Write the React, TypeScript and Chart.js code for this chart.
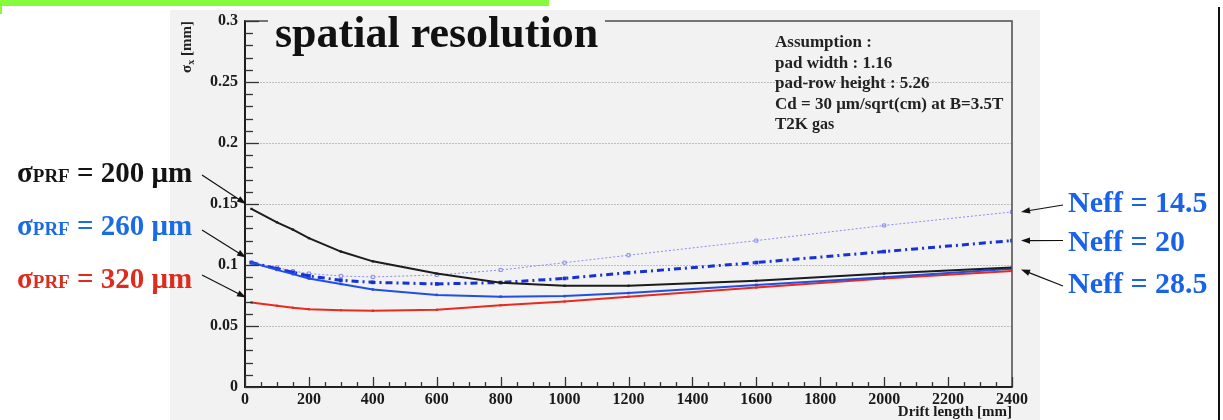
import React, { useEffect, useRef } from "react";
import { Chart, registerables } from "chart.js";

Chart.register(...registerables);

// ---- data ----
const driftLength = [20, 100, 150, 200, 300, 400, 600, 800, 1000, 1200, 1600, 2000, 2400];
const prf200Neff285 = [0.146, 0.135, 0.129, 0.122, 0.111, 0.103, 0.093, 0.0855, 0.083, 0.083, 0.087, 0.093, 0.098];
const prf260Neff285 = [0.102, 0.096, 0.0925, 0.089, 0.0845, 0.080, 0.0755, 0.074, 0.0745, 0.077, 0.0837, 0.090, 0.097];
const prf320Neff285 = [0.0693, 0.0666, 0.065, 0.0638, 0.063, 0.0625, 0.0633, 0.067, 0.070, 0.0739, 0.0815, 0.089, 0.095];
const prf260Neff20 = [0.102, 0.097, 0.094, 0.091, 0.0875, 0.0858, 0.0845, 0.0856, 0.089, 0.0937, 0.102, 0.111, 0.120];
const prf260Neff145 = [0.102, 0.098, 0.095, 0.093, 0.091, 0.0902, 0.0918, 0.0959, 0.1019, 0.108, 0.120, 0.1324, 0.1435];

const xMin = 0;
const xMax = 2400;
const xStep = 200;
const xMinorStep = 50;
const yMin = 0;
const yMax = 0.3;
const yStep = 0.05;
const yMinorStep = 0.01;

const titleText = "spatial resolution";
const xTitle = "Drift length [mm]";
const assumptionLines = [
  "Assumption :",
  "pad width : 1.16",
  "pad-row height : 5.26",
  "Cd = 30 \u03bcm/sqrt(cm) at B=3.5T",
];
const assumptionLast = ["T2K", " gas"];
const prfValues = ["200", "260", "320"];
const prfColors = ["#141414", "#1a6be6", "#de2c1c"];
const neffValues = ["14.5", "20", "28.5"];

const SERIF = "'Liberation Serif', 'Times New Roman', serif";

function drawArrow(ctx: CanvasRenderingContext2D, x1: number, y1: number, x2: number, y2: number) {
  const ang = Math.atan2(y2 - y1, x2 - x1);
  const hl = 9;
  const hw = 3.2;
  ctx.beginPath();
  ctx.moveTo(x1, y1);
  ctx.lineTo(x2 - Math.cos(ang) * hl * 0.8, y2 - Math.sin(ang) * hl * 0.8);
  ctx.stroke();
  ctx.beginPath();
  ctx.moveTo(x2, y2);
  ctx.lineTo(x2 - Math.cos(ang) * hl + Math.sin(ang) * hw, y2 - Math.sin(ang) * hl - Math.cos(ang) * hw);
  ctx.lineTo(x2 - Math.cos(ang) * hl - Math.sin(ang) * hw, y2 - Math.sin(ang) * hl + Math.cos(ang) * hw);
  ctx.closePath();
  ctx.fill();
}

const rootStylePlugin = {
  id: "rootStyle",
  afterDraw(chart: any) {
    const { ctx, chartArea, scales } = chart;
    const { left, right, top, bottom } = chartArea;
    const x = scales.x;
    const y = scales.y;
    ctx.save();
    // frame
    ctx.strokeStyle = "#555";
    ctx.lineWidth = 1.6;
    ctx.strokeRect(left, top, right - left, bottom - top);
    ctx.strokeStyle = "#111";
    ctx.lineWidth = 1.6;
    ctx.beginPath();
    ctx.moveTo(left, top);
    ctx.lineTo(left, bottom);
    ctx.lineTo(right, bottom);
    ctx.stroke();
    // y ticks (inside)
    ctx.strokeStyle = "#333";
    ctx.lineWidth = 1.3;
    const nY = Math.round((yMax - yMin) / yMinorStep);
    const perMajorY = Math.round(yStep / yMinorStep);
    for (let i = 0; i <= nY; i++) {
      const v = yMin + i * yMinorStep;
      const py = Math.round(y.getPixelForValue(v)) + 0.5;
      const len = i % perMajorY === 0 ? 14 : 8;
      ctx.beginPath();
      ctx.moveTo(left, py);
      ctx.lineTo(left + len, py);
      ctx.stroke();
    }
    // x ticks (inside)
    const nX = Math.round((xMax - xMin) / xMinorStep);
    const perMajorX = Math.round(xStep / xMinorStep);
    for (let i = 0; i <= nX; i++) {
      const v = xMin + i * xMinorStep;
      const px = Math.round(x.getPixelForValue(v)) + 0.5;
      const len = i % perMajorX === 0 ? 10 : 5;
      ctx.beginPath();
      ctx.moveTo(px, bottom);
      ctx.lineTo(px, bottom - len);
      ctx.stroke();
    }
    // y title  sigma_x [mm]
    ctx.fillStyle = "#222";
    const f1 = `bold 15px ${SERIF}`;
    const f2 = `bold 10px ${SERIF}`;
    ctx.font = f1;
    const w1 = ctx.measureText("\u03c3").width;
    const w3 = ctx.measureText(" [mm]").width;
    ctx.font = f2;
    const w2 = ctx.measureText("x").width;
    const total = w1 + w2 + w3;
    ctx.save();
    ctx.translate(191, top);
    ctx.rotate(-Math.PI / 2);
    ctx.textBaseline = "alphabetic";
    ctx.textAlign = "left";
    ctx.font = f1;
    ctx.fillText("\u03c3", -total, 0);
    ctx.font = f2;
    ctx.fillText("x", -total + w1, 3);
    ctx.font = f1;
    ctx.fillText(" [mm]", -total + w1 + w2, 0);
    ctx.restore();

    // arrows
    ctx.fillStyle = "#111";
    ctx.strokeStyle = "#111";
    ctx.lineWidth = 1.2;
    const x0 = x.getPixelForValue(xMin);
    const leftSeries = [prf200Neff285, prf260Neff285, prf320Neff285];
    const leftTailY = [175, 230, 275];
    leftSeries.forEach((s, i) => {
      drawArrow(ctx, 202, leftTailY[i], x0 + 1, y.getPixelForValue(s[0]) - 5);
    });
    const xEnd = x.getPixelForValue(driftLength[driftLength.length - 1]) + 9;
    const rightSeries = [prf260Neff145, prf260Neff20, prf200Neff285];
    const rightTailY = [205, 240.5, 286];
    rightSeries.forEach((s, i) => {
      drawArrow(ctx, 1063, rightTailY[i], xEnd, y.getPixelForValue(s[s.length - 1]) + (i === 2 ? 2 : 0));
    });
    ctx.restore();
  },
};

const toXY = (arr: number[]) => driftLength.map((xv, i) => ({ x: xv, y: arr[i] }));

export default function App() {
  const canvasRef = useRef<HTMLCanvasElement | null>(null);

  useEffect(() => {
    const canvas = canvasRef.current;
    if (!canvas) return;
    const chart = new Chart(canvas, {
      type: "line",
      data: {
        datasets: [
          {
            label: "\u03c3PRF=200 \u03bcm, Neff=28.5",
            data: toXY(prf200Neff285),
            borderColor: "#1c1c1c",
            backgroundColor: "#1c1c1c",
            borderWidth: 2,
            pointStyle: "rect",
            pointRadius: 1.6,
            pointBorderWidth: 0,
            tension: 0,
          },
          {
            label: "\u03c3PRF=260 \u03bcm, Neff=28.5",
            data: toXY(prf260Neff285),
            borderColor: "#1f4fe4",
            backgroundColor: "#1f4fe4",
            borderWidth: 2,
            pointStyle: "rect",
            pointRadius: 1.8,
            pointBorderWidth: 0,
            tension: 0,
          },
          {
            label: "\u03c3PRF=320 \u03bcm, Neff=28.5",
            data: toXY(prf320Neff285),
            borderColor: "#ea2a1e",
            backgroundColor: "#ea2a1e",
            borderWidth: 2,
            pointStyle: "rect",
            pointRadius: 1.6,
            pointBorderWidth: 0,
            tension: 0,
          },
          {
            label: "\u03c3PRF=260 \u03bcm, Neff=20",
            data: toXY(prf260Neff20),
            borderColor: "#1632d6",
            backgroundColor: "#1632d6",
            borderWidth: 3,
            borderDash: [7, 4, 2, 4],
            pointStyle: "rect",
            pointRadius: 2.6,
            pointBorderWidth: 0,
            tension: 0,
          },
          {
            label: "\u03c3PRF=260 \u03bcm, Neff=14.5",
            data: toXY(prf260Neff145),
            borderColor: "#8a8cf0",
            backgroundColor: "rgba(0,0,0,0)",
            borderWidth: 1,
            borderDash: [2, 2],
            pointStyle: "rect",
            pointRadius: 2.2,
            pointBorderWidth: 1,
            pointBorderColor: "#8a8cf0",
            pointBackgroundColor: "rgba(0,0,0,0)",
            tension: 0,
          },
        ],
      },
      options: {
        animation: false,
        responsive: false,
        devicePixelRatio: 1,
        layout: { padding: { left: 170, right: 211, top: 21, bottom: 0 } },
        plugins: {
          legend: { display: false },
          tooltip: { enabled: false },
          title: { display: false },
        },
        scales: {
          x: {
            type: "linear",
            min: xMin,
            max: xMax,
            ticks: {
              stepSize: xStep,
              padding: 3,
              autoSkip: false,
              maxRotation: 0,
              color: "#1a1a1a",
              font: { family: SERIF, weight: "bold", size: 16 },
              callback: (v: any) => String(v),
            },
            grid: { display: true, drawOnChartArea: false, drawTicks: false },
            border: { display: true, color: "#111", width: 1.5 },
            title: {
              display: true,
              text: xTitle,
              align: "end",
              color: "#1a1a1a",
              font: { family: SERIF, weight: "bold", size: 15 },
              padding: { top: 0, bottom: -1 },
            },
            afterFit: (s: any) => {
              s.height = 33;
            },
          },
          y: {
            type: "linear",
            min: yMin,
            max: yMax,
            ticks: {
              stepSize: yStep,
              padding: 7,
              color: "#1a1a1a",
              font: { family: SERIF, weight: "bold", size: 16 },
              callback: (v: any) => String(+Number(v).toFixed(2)),
            },
            grid: {
              drawTicks: false,
              lineWidth: 1,
              color: (c: any) =>
                c.tick && (Math.abs(c.tick.value - yMin) < 1e-6 || Math.abs(c.tick.value - yMax) < 1e-6)
                  ? "rgba(0,0,0,0)"
                  : "#8c8c8c",
            },
            border: { display: true, color: "#111", width: 1.5, dash: [1, 2] },
            afterFit: (s: any) => {
              s.width = 75;
            },
          },
        },
      },
      plugins: [rootStylePlugin],
    } as any);
    return () => chart.destroy();
  }, []);

  const prfLabelBaselines = [182, 235, 288];
  const neffBaselines = [212, 251, 293];
  const assumptionBaselines = [47, 68, 88, 109, 129];

  return (
    <div style={{ position: "fixed", left: 0, top: 0, width: 1223, height: 420, background: "#ffffff", overflow: "hidden" }}>
      <div style={{ position: "absolute", left: 0, top: 0, width: 549, height: 6, background: "#86fb3c" }} />
      <div style={{ position: "absolute", left: 0, top: 0, width: 2, height: 14, background: "#86fb3c" }} />
      <div style={{ position: "absolute", left: 170, top: 10, width: 870, height: 410, background: "#f2f2f2" }} />
      <div style={{ position: "absolute", left: 1218, top: 7, width: 2, height: 413, background: "#111" }} />
      <canvas ref={canvasRef} width={1223} height={420} style={{ position: "absolute", left: 0, top: 0, width: 1223, height: 420 }} />
      <svg width={1223} height={420} style={{ position: "absolute", left: 0, top: 0, pointerEvents: "none" }}>
        <rect x={268} y={14} width={337} height={14} fill="#f2f2f2" />
        <text x={275} y={47} fontFamily={SERIF} fontWeight="bold" fontSize={44} fill="#111">
          {titleText}
        </text>
        {assumptionLines.map((t, i) => (
          <text key={t} x={775} y={assumptionBaselines[i]} fontFamily={SERIF} fontWeight="bold" fontSize={17} fill="#222">
            {t}
          </text>
        ))}
        <text x={775} y={assumptionBaselines[4]} fontFamily={SERIF} fontWeight="bold" fontSize={17} fill="#222">
          {assumptionLast[0]}
          <tspan fontSize={16}>{assumptionLast[1]}</tspan>
        </text>
        {prfValues.map((v, i) => (
          <text key={v} x={17} y={prfLabelBaselines[i]} fontFamily={SERIF} fontWeight="bold" fontSize={29} fill={prfColors[i]}>
            {"\u03c3"}
            <tspan fontSize={19}>PRF</tspan>
            {` = ${v} \u03bcm`}
          </text>
        ))}
        {neffValues.map((v, i) => (
          <text key={v} x={1068} y={neffBaselines[i]} fontFamily={SERIF} fontWeight="bold" fontSize={30} fill="#1a62e6">
            {`Neff = ${v}`}
          </text>
        ))}
      </svg>
    </div>
  );
}
